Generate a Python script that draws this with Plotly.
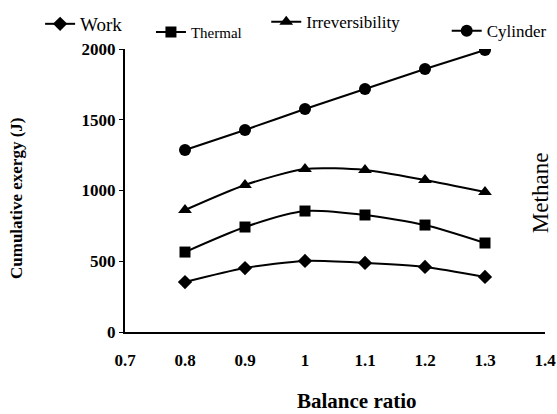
import plotly.graph_objects as go

# Balance ratio (x) and cumulative exergy per component (J)
balance_ratio = [0.8, 0.9, 1.0, 1.1, 1.2, 1.3]
work = [353, 452, 502, 488, 460, 389]
thermal = [565, 742, 855, 827, 756, 629]
irreversibility = [862, 1039, 1152, 1145, 1074, 989]
cylinder = [1286, 1428, 1576, 1717, 1859, 1993]

x_ticks = [0.7, 0.8, 0.9, 1.0, 1.1, 1.2, 1.3, 1.4]
x_tick_text = ["0.7", "0.8", "0.9", "1", "1.1", "1.2", "1.3", "1.4"]
y_ticks = [0, 500, 1000, 1500, 2000]
y_tick_text = ["0", "500", "1000", "1500", "2000"]

FONT = "Liberation Serif"

# name, values, marker symbol, marker size, legend id, legend x, legend y, font size
series = [
    ("Work", work, "diamond", 11, "legend", 0.072, 0.988, 19),
    ("Thermal", thermal, "square", 11, "legend2", 0.271, 0.962, 15),
    ("Irreversibility", irreversibility, "triangle-up", 12, "legend3", 0.478, 0.99, 17),
    ("Cylinder", cylinder, "circle", 12, "legend4", 0.802, 0.968, 17),
]

fig = go.Figure()
for name, vals, sym, size, leg, *_ in series:
    fig.add_trace(go.Scatter(
        x=balance_ratio, y=vals, name=name, mode="lines+markers",
        line=dict(color="black", width=2, shape="spline", smoothing=0.7),
        marker=dict(symbol=sym, size=size, color="black"),
        legend=leg,
    ))

layout_legends = {}
for name, vals, sym, size, leg, lx, ly, fs in series:
    layout_legends[leg] = dict(
        x=lx, y=ly, xref="container", yref="container",
        xanchor="left", yanchor="top", bgcolor="rgba(0,0,0,0)",
        font=dict(family=FONT, size=fs, color="black"),
        itemwidth=30,
    )

fig.update_layout(
    width=557, height=414,
    margin=dict(l=125, r=12, t=49, b=82, autoexpand=False),
    paper_bgcolor="white", plot_bgcolor="white",
    font=dict(family=FONT, color="black"),
    showlegend=True,
    xaxis=dict(
        range=[0.7, 1.4], tickmode="array", tickvals=x_ticks, ticktext=x_tick_text,
        showgrid=False, zeroline=False, automargin=False,
        showline=True, linecolor="black", linewidth=2,
        ticks="outside", ticklen=12, tickcolor="rgba(0,0,0,0)",
        tickfont=dict(family=FONT, size=17, color="black", weight="bold"),
    ),
    yaxis=dict(
        range=[0, 2000], tickmode="array", tickvals=y_ticks, ticktext=y_tick_text,
        showgrid=False, zeroline=False, automargin=False,
        showline=True, linecolor="black", linewidth=2,
        ticks="outside", ticklen=4, tickcolor="black",
        tickfont=dict(family=FONT, size=17, color="black", weight="bold"),
    ),
    **layout_legends,
)

# Axis titles placed in paper-pixel terms
fig.add_annotation(
    text="<b>Balance ratio</b>", xref="paper", yref="paper", x=0.552, y=0,
    xanchor="center", yanchor="middle", yshift=-69, showarrow=False,
    font=dict(family=FONT, size=21, color="black"),
)
fig.add_annotation(
    text="<b>Cumulative exergy (J)</b>", xref="paper", yref="paper", x=0, y=0.47,
    xanchor="center", yanchor="middle", xshift=-108, textangle=-90, showarrow=False,
    font=dict(family=FONT, size=17, color="black"),
)
fig.add_annotation(
    text="Methane", xref="paper", yref="paper", x=0.99, y=0.49,
    xanchor="center", yanchor="middle", textangle=-90, showarrow=False,
    font=dict(family=FONT, size=23, color="black"),
)

fig.write_html("out.html")
